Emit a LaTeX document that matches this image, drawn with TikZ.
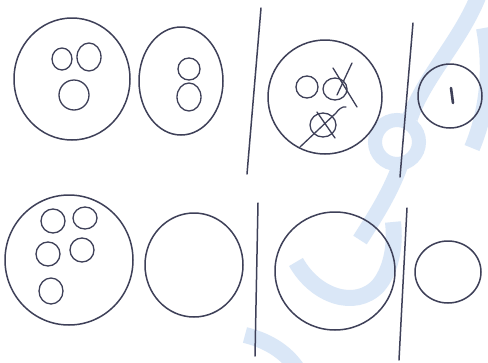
\documentclass[tikz,border=0pt]{standalone}
\begin{document}
\begin{tikzpicture}[x=1pt,y=-1pt,
  pen/.style={draw=ink,line width=1.5pt,line cap=round,line join=round},
  thin/.style={draw=ink,line width=1.3pt,line cap=round},
  wmark/.style={draw=wm,line width=16pt,line cap=butt}]
\definecolor{ink}{RGB}{62,64,88}
\definecolor{wm}{RGB}{218,231,247}
\useasboundingbox (0,0) rectangle (488,362);
\fill[white] (0,0) rectangle (488,362);
% watermark (faint background)
\draw[wmark] (480,-8) .. controls (462,40) and (425,75) .. (410,118);
\draw[wmark,line width=14pt] (397,142) circle [radius=22pt];
\draw[wmark] (484,28) .. controls (492,70) and (487,112) .. (472,148);
\draw[wmark] (402,160) .. controls (392,190) and (376,215) .. (360,240);
\draw[wmark] (296,262) .. controls (315,296) and (355,310) .. (378,286) .. controls (390,272) and (396,248) .. (393,222);
\draw[wmark] (245,335) .. controls (265,340) and (285,350) .. (298,370);
% top row
\draw[pen] (72,79) ellipse [x radius=58pt,y radius=61pt];
\draw[thin] (62,59) ellipse [x radius=10pt,y radius=11pt];
\draw[thin] (89,57) ellipse [x radius=12pt,y radius=14pt];
\draw[thin] (74,95) ellipse [x radius=15pt,y radius=15pt];
\draw[pen] (181,81) ellipse [x radius=42pt,y radius=54pt];
\draw[thin] (189,69) ellipse [x radius=11pt,y radius=11pt];
\draw[thin] (189,97) ellipse [x radius=12pt,y radius=14pt];
\draw[pen] (261,8) -- (247,174);
\draw[pen] (325,97) ellipse [x radius=57pt,y radius=57pt];
\draw[thin] (307,87) ellipse [x radius=11pt,y radius=11pt];
\draw[thin] (335,89) ellipse [x radius=12pt,y radius=11pt];
\draw[thin] (333,68) -- (357,107);
\draw[thin] (352,63) -- (337,95);
\draw[thin] (323,125) ellipse [x radius=13pt,y radius=12pt];
\draw[thin] (346,107) .. controls (342,106) and (338,110) .. (336,113) -- (300,147);
\draw[thin] (317,112) -- (335,138);
\draw[pen] (413,23) -- (400,177);
\draw[pen] (450,96) ellipse [x radius=32pt,y radius=32pt];
\draw[draw=ink,line width=2.6pt,line cap=round] (451,88) -- (453,103);
% bottom row
\draw[pen] (69,260) ellipse [x radius=64pt,y radius=65pt];
\draw[thin] (53,221) ellipse [x radius=12pt,y radius=12pt];
\draw[thin] (85,218) ellipse [x radius=12pt,y radius=11pt];
\draw[thin] (48,254) ellipse [x radius=12pt,y radius=12pt];
\draw[thin] (82,250) ellipse [x radius=12pt,y radius=12pt];
\draw[thin] (51,291) ellipse [x radius=12pt,y radius=13pt];
\draw[pen] (194,265) ellipse [x radius=49pt,y radius=52pt];
\draw[pen] (258,203) -- (255,356);
\draw[pen] (335,271) ellipse [x radius=60pt,y radius=59pt];
\draw[pen] (407,208) -- (399,360);
\draw[pen] (448,272) ellipse [x radius=33pt,y radius=31pt];
\end{tikzpicture}
\end{document}
